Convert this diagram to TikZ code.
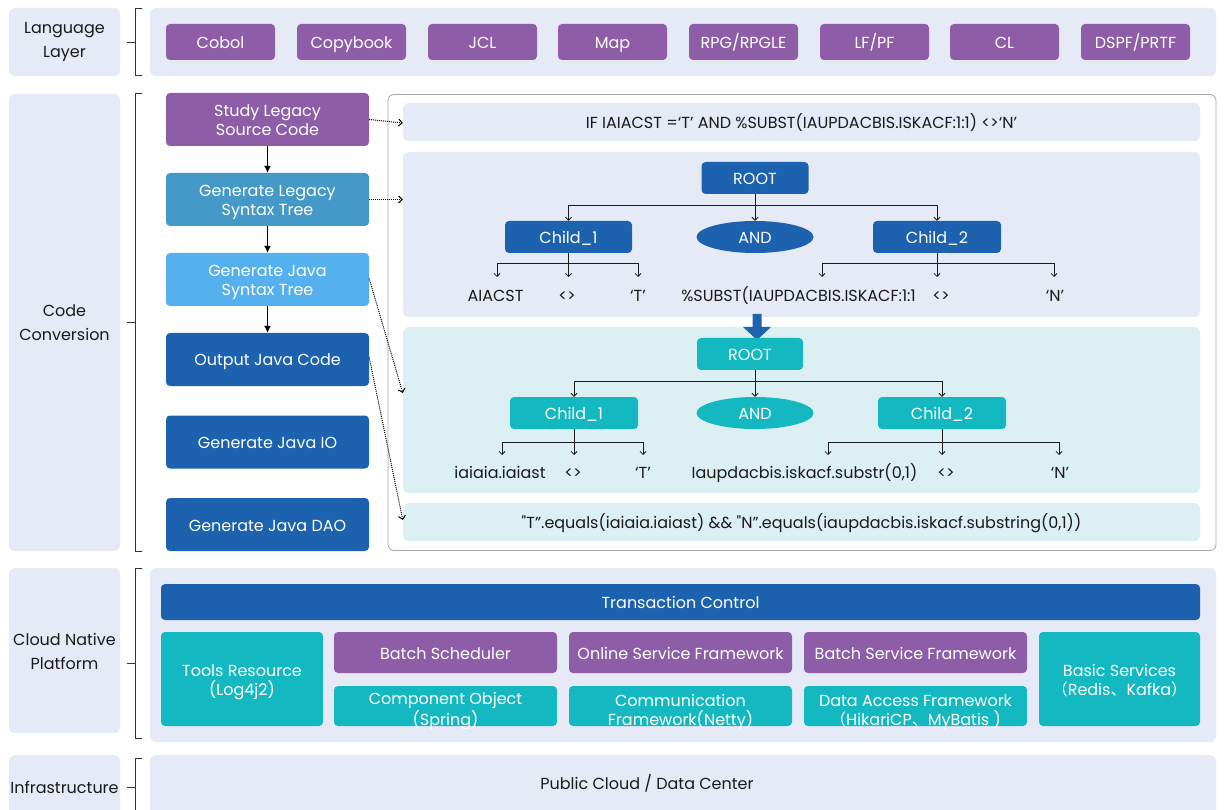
\documentclass[tikz,border=0pt]{standalone}
\usepackage{fontspec}
\setmainfont{Poppins}
\newfontfamily\popq{Poppins}
\newfontfamily\cjk{Noto Sans CJK SC}
\usetikzlibrary{arrows.meta,shapes.geometric,calc}
\definecolor{purp}{HTML}{8E5DA8}
\definecolor{dblue}{HTML}{1C62AE}
\definecolor{mblue}{HTML}{4599C8}
\definecolor{lblue}{HTML}{55B0EE}
\definecolor{tealc}{HTML}{14B8C0}
\definecolor{lav}{HTML}{E6EAF6}
\definecolor{lteal}{HTML}{DCF0F3}
\definecolor{ink}{HTML}{1A1A1A}
\definecolor{brk}{HTML}{333333}
\begin{document}
\begin{tikzpicture}[x=1pt,y=-1pt,
  base/.style={inner sep=0pt, align=center, font=\fontsize{16}{19}\selectfont, text height=13pt, text depth=0pt},
  two/.style={text height=32pt, text depth=0pt},
  wbox/.style={base, text=white, rounded corners=4pt},
  pbox/.style={wbox, fill=purp},
  dbox/.style={wbox, fill=dblue},
  tbox/.style={wbox, fill=tealc},
  lblbox/.style={base, fill=lav, rounded corners=6pt, text=ink, font=\fontsize{16}{24}\selectfont},
  lbltwo/.style={text height=37pt, text depth=0pt},
  panel/.style={base, fill=lav, rounded corners=6pt},
  tpanel/.style={base, fill=lteal, rounded corners=6pt},
  txt/.style={base, text=ink},
  brace/.style={draw=brk, line width=1pt},
  flow/.style={draw=black, line width=1.1pt, -{Latex[length=7pt,width=7pt]}},
  dots/.style={draw=black, line width=1pt, densely dotted, -{Straight Barb[length=3.5pt,width=7pt]}},
  tr/.style={draw=ink, line width=0.8pt},
  tra/.style={tr, -{Straight Barb[length=3pt,width=6pt]}},
  ell/.style={base, ellipse, text=white, minimum width=117pt, minimum height=32pt}
]
\useasboundingbox (0,0) rectangle (1224,810);

% ---------------- Language layer
\node[lblbox, lbltwo, text depth=6pt, minimum width=111pt, minimum height=68pt] (lang) at (64.5,42) {Language\\Layer};
\draw[brace] (142,9) -- (135,9) -- (135,76) -- (142,76);
\draw[brace] (135,43) -- (127,43);
\node[panel, minimum width=1066pt, minimum height=68pt] (langp) at (683,42) {};
\foreach \n/\x/\t in {cob/220.5/Cobol, cpy/351.5/Copybook, jcl/482.5/JCL, map/612.5/Map, rpg/743.5/RPG\slash RPGLE, lfpf/874.5/LF\slash PF, cl/1004.5/CL, dspf/1135.5/DSPF\slash PRTF}
  \node[pbox, minimum width=109pt, minimum height=36pt] (\n) at (\x,42) {\t};

% ---------------- Code conversion
\node[lblbox, lbltwo, minimum width=111pt, minimum height=457pt] (code) at (64.5,322.5) {Code\\Conversion};
\draw[brace] (142,94) -- (135,94) -- (135,551) -- (142,551);
\draw[brace] (135,323) -- (127,323);

\node[pbox, two, minimum width=203pt, minimum height=53pt] (study) at (267.5,119.5) {Study Legacy\\Source Code};
\node[wbox, two, fill=mblue, minimum width=203pt, minimum height=53pt] (legacy) at (267.5,199.5) {Generate Legacy\\Syntax Tree};
\node[wbox, two, fill=lblue, minimum width=203pt, minimum height=53pt] (jtree) at (267.5,279.5) {Generate Java\\Syntax Tree};
\node[dbox, minimum width=203pt, minimum height=53pt] (out) at (267.5,359.5) {Output Java Code};
\node[dbox, minimum width=203pt, minimum height=53pt] (jio) at (267.5,442) {Generate Java IO};
\node[dbox, minimum width=203pt, minimum height=53pt] (jdao) at (267.5,524.5) {Generate Java DAO};
\draw[flow] (study) -- (legacy);
\draw[flow] (legacy) -- (jtree);
\draw[flow] (jtree) -- (out);

\node[base, draw=black!35, line width=0.8pt, fill=white, rounded corners=6pt, minimum width=828pt, minimum height=456pt] (wb) at (802,322.5) {};
\node[panel, text=ink, minimum width=797pt, minimum height=38pt] (p1) at (801.5,122) {IF IAIACST =‘T’ AND \%SUBST(IAUPDACBIS.ISKACF:1:1) <>‘N’};
\node[panel, minimum width=797pt, minimum height=165pt] (p2) at (801.5,234.5) {};
\node[tpanel, minimum width=797pt, minimum height=166pt] (p3) at (801.5,410) {};
\node[tpanel, text=ink, minimum width=797pt, minimum height=38pt] (p4) at (801.5,522) {{\popq"}T”.equals(iaiaia.iaiast) \&\& {\popq"}N”.equals(iaupdacbis.iskacf.substring(0,1))};

\draw[dots] (study.east) -- ([yshift=-1pt]p1.west);
\draw[dots] (legacy.east) -- (legacy.east -| p2.west);
\draw[dots] ([yshift=1pt]jtree.east) -- ([yshift=17pt]p3.west);
\draw[dots] ([yshift=2pt]out.east) -- ([yshift=2pt]p4.west);

% legacy tree
\node[dbox, minimum width=107pt, minimum height=32pt] (r1) at (755,178) {ROOT};
\node[dbox, minimum width=127pt, minimum height=32pt] (c11) at (568.5,237) {Child\_1};
\node[ell, fill=dblue] (a1) at (755,237) {AND};
\node[dbox, minimum width=128pt, minimum height=32pt] (c12) at (937,237) {Child\_2};
\draw[tr] (r1.south) -- (r1.south |- 0,205);
\draw[tr] (c11.north |- 0,205) -- (c12.north |- 0,205);
\draw[tra] (c11.north |- 0,205) -- (c11.north);
\draw[tra] (c12.north |- 0,205) -- (c12.north);
\draw[tra] (r1.south) -- (a1.north);

\node[txt] (l11) at (495.5,295) {AIACST};
\node[txt] (l12) at (567,295) {<>};
\node[txt] (l13) at (638,295) {‘T’};
\node[txt] (l14) at (798.5,295) {\%SUBST(IAUPDACBIS.ISKACF:1:1};
\node[txt] (l15) at (941,295) {<>};
\node[txt] (l16) at (1055,295) {‘N’};
\coordinate (e11) at (497,277); \coordinate (e12) at (568.5,277); \coordinate (e13) at (638,277);
\coordinate (e14) at (822,277); \coordinate (e15) at (937,277); \coordinate (e16) at (1054,277);
\draw[tr] (c11.south) -- (c11.south |- 0,263);
\draw[tr] (e11 |- 0,263) -- (e13 |- 0,263);
\draw[tra] (e11 |- 0,263) -- (e11);
\draw[tra] (e12 |- 0,263) -- (e12);
\draw[tra] (e13 |- 0,263) -- (e13);
\draw[tr] (c12.south) -- (c12.south |- 0,263);
\draw[tr] (e14 |- 0,263) -- (e16 |- 0,263);
\draw[tra] (e14 |- 0,263) -- (e14);
\draw[tra] (e15 |- 0,263) -- (e15);
\draw[tra] (e16 |- 0,263) -- (e16);

% big arrow
\fill[dblue] (752.5,314) -- (761.5,314) -- (761.5,327) -- (771,327) -- (757,340) -- (743,327) -- (752.5,327) -- cycle;

% java tree
\node[tbox, minimum width=106pt, minimum height=32pt] (r2) at (750,354) {ROOT};
\node[tbox, minimum width=128pt, minimum height=32pt] (c21) at (574,413) {Child\_1};
\node[ell, fill=tealc] (a2) at (755,413) {AND};
\node[tbox, minimum width=128pt, minimum height=32pt] (c22) at (942,413) {Child\_2};
\draw[tr] (r2.south -| a2.north) -- (a2.north |- 0,381);
\draw[tr] (c21.north |- 0,381) -- (c22.north |- 0,381);
\draw[tra] (c21.north |- 0,381) -- (c21.north);
\draw[tra] (c22.north |- 0,381) -- (c22.north);
\draw[tra] (r2.south -| a2.north) -- (a2.north);

\node[txt] (l21) at (500,472) {iaiaia.iaiast};
\node[txt] (l22) at (573,472) {<>};
\node[txt] (l23) at (643,472) {‘T’};
\node[txt] (l24) at (804.5,472) {Iaupdacbis.iskacf.substr(0,1)};
\node[txt] (l25) at (946,472) {<>};
\node[txt] (l26) at (1060,472) {‘N’};
\coordinate (e21) at (502,455); \coordinate (e22) at (574,455); \coordinate (e23) at (643,455);
\coordinate (e24) at (828,455); \coordinate (e25) at (942,455); \coordinate (e26) at (1059,455);
\draw[tr] (c21.south) -- (c21.south |- 0,442);
\draw[tr] (e21 |- 0,442) -- (e23 |- 0,442);
\draw[tra] (e21 |- 0,442) -- (e21);
\draw[tra] (e22 |- 0,442) -- (e22);
\draw[tra] (e23 |- 0,442) -- (e23);
\draw[tr] (c22.south) -- (c22.south |- 0,442);
\draw[tr] (e24 |- 0,442) -- (e26 |- 0,442);
\draw[tra] (e24 |- 0,442) -- (e24);
\draw[tra] (e25 |- 0,442) -- (e25);
\draw[tra] (e26 |- 0,442) -- (e26);

% ---------------- Cloud native platform
\node[lblbox, lbltwo, minimum width=111pt, minimum height=165pt] (cloud) at (64.5,650.5) {Cloud Native\\Platform};
\draw[brace] (142,568) -- (135,568) -- (135,738) -- (142,738);
\draw[brace] (135,663) -- (127,663);
\node[panel, minimum width=1066pt, minimum height=174pt] (cp) at (683,655) {};
\node[dbox, minimum width=1039pt, minimum height=36pt] (tc) at (680.5,602) {Transaction Control};
\node[tbox, two, minimum width=162pt, minimum height=94pt] (tools) at (242,679) {Tools Resource\\(Log4j2)};
\node[pbox, minimum width=223pt, minimum height=41pt] (bs) at (445.5,652.5) {Batch Scheduler};
\node[tbox, two, text height=38pt, minimum width=223pt, minimum height=40pt] (co) at (445.5,706) {Component Object\\(Spring)};
\node[pbox, minimum width=223pt, minimum height=41pt] (osf) at (680.5,652.5) {Online Service Framework};
\node[tbox, two, text height=38pt, minimum width=223pt, minimum height=40pt] (cf) at (680.5,706) {Communication\\Framework(Netty)};
\node[pbox, minimum width=223pt, minimum height=41pt] (bsf) at (915.5,652.5) {Batch Service Framework};
\node[tbox, two, text height=38pt, minimum width=223pt, minimum height=40pt] (daf) at (915.5,706) {Data Access Framework\\{\cjk（}HikariCP{\cjk 、}MyBatis )};
\node[tbox, two, minimum width=161pt, minimum height=94pt] (basic) at (1119.5,679) {Basic Services\\{\cjk（}Redis{\cjk 、}Kafka{\cjk ）}};

% ---------------- Infrastructure
\node[lblbox, minimum width=111pt, minimum height=80pt, anchor=north] (infra) at (64.5,755) {};
\node[txt] (infratxt) at (64.5,787) {Infrastructure};
\draw[brace] (142,758) -- (135,758) -- (135,812);
\draw[brace] (135,787) -- (127,787);
\node[panel, minimum width=1066pt, minimum height=80pt, anchor=north] (ip) at (683,755) {};
\node[txt] (pub) at (647,783) {Public Cloud / Data Center};
\end{tikzpicture}
\end{document}
